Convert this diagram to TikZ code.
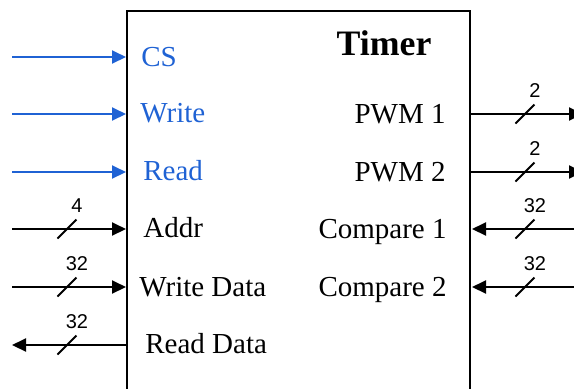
\documentclass[tikz,border=0pt]{standalone}
\usepackage{fontspec}
\setmainfont{Liberation Serif}
\setsansfont{Liberation Sans}
\usetikzlibrary{arrows.meta}
\definecolor{sigblue}{RGB}{31,98,212}
\tikzset{
  port/.style={line width=1pt},
  tip/.style={-{Triangle[length=7pt,width=6.5pt]}},
  sig/.style={port, tip, draw=sigblue},
  bus/.style={port, tip, draw=black},
  lbl/.style={font=\fontsize{14.5}{16}\selectfont, inner sep=0pt},
  buswidth/.style={font=\sffamily\fontsize{10}{12}\selectfont, inner sep=0pt, anchor=base},
}
% slash across a bus line, with its width written above it
\newcommand\busmark[4]{%
  \draw[port] (#1-9.5,#2+9.5) -- (#1+9.5,#2-9.5);
  \node[buswidth] (#4) at (#1+10,#2-17) {#3};}
\begin{document}
\begin{tikzpicture}[x=0.5pt,y=-0.5pt]
\useasboundingbox (0,0) rectangle (574,388);
\clip (0,0) rectangle (574,388);

% the timer block (its lower edge runs off the page)
\node[draw, line width=1pt, inner sep=0pt, anchor=north west,
      minimum width=171.5pt, minimum height=250pt] (timer) at (126,10) {};
\node[font=\bfseries\fontsize{17.9}{20}\selectfont, inner sep=0pt, anchor=base] (title) at (384,55) {Timer};

% outer ends of the port lines
\coordinate (csA) at (12,57);
\coordinate (wrA) at (12,114);
\coordinate (rdA) at (12,172);
\coordinate (adA) at (12,229);
\coordinate (wdA) at (12,287);
\coordinate (rdd) at (12,345);
\coordinate (pw1) at (583,114);
\coordinate (pw2) at (583,172);
\coordinate (cp1) at (590,229);
\coordinate (cp2) at (590,287);

% control inputs
\draw[sig] (csA) -- (timer.west |- csA);
\draw[sig] (wrA) -- (timer.west |- wrA);
\draw[sig] (rdA) -- (timer.west |- rdA);

% bus inputs and outputs on the left
\draw[bus] (adA) -- (timer.west |- adA);
\draw[bus] (wdA) -- (timer.west |- wdA);
\draw[bus] (timer.west |- rdd) -- (rdd);
\busmark{67}{229}{4}{wad}
\busmark{67}{287}{32}{wwd}
\busmark{67}{345}{32}{wrd}

% buses on the right
\draw[bus] (timer.east |- pw1) -- (pw1);
\draw[bus] (timer.east |- pw2) -- (pw2);
\draw[bus] (cp1) -- ([xshift=0.5pt]timer.east |- cp1);
\draw[bus] (cp2) -- ([xshift=0.5pt]timer.east |- cp2);
\busmark{525}{114}{2}{wp1}
\busmark{525}{172}{2}{wp2}
\busmark{525}{229}{32}{wc1}
\busmark{525}{287}{32}{wc2}

% port names inside the block
\node[lbl, text=sigblue, anchor=base west] (lcs) at (141,66) {CS};
\node[lbl, text=sigblue, anchor=base west] (lwr) at (140,122) {Write};
\node[lbl, text=sigblue, anchor=base west] (lrd) at (143,180) {Read};
\node[lbl, anchor=base west] (lad) at (143,237) {Addr};
\node[lbl, anchor=base west] (lwd) at (139,296) {Write Data};
\node[lbl, anchor=base west] (lrdd) at (145,353) {Read Data};
\node[lbl, anchor=base east] (lp1) at (446,123) {PWM 1};
\node[lbl, anchor=base east] (lp2) at (446,181) {PWM 2};
\node[lbl, anchor=base east] (lc1) at (447,238) {Compare 1};
\node[lbl, anchor=base east] (lc2) at (447,296) {Compare 2};
\end{tikzpicture}
\end{document}
